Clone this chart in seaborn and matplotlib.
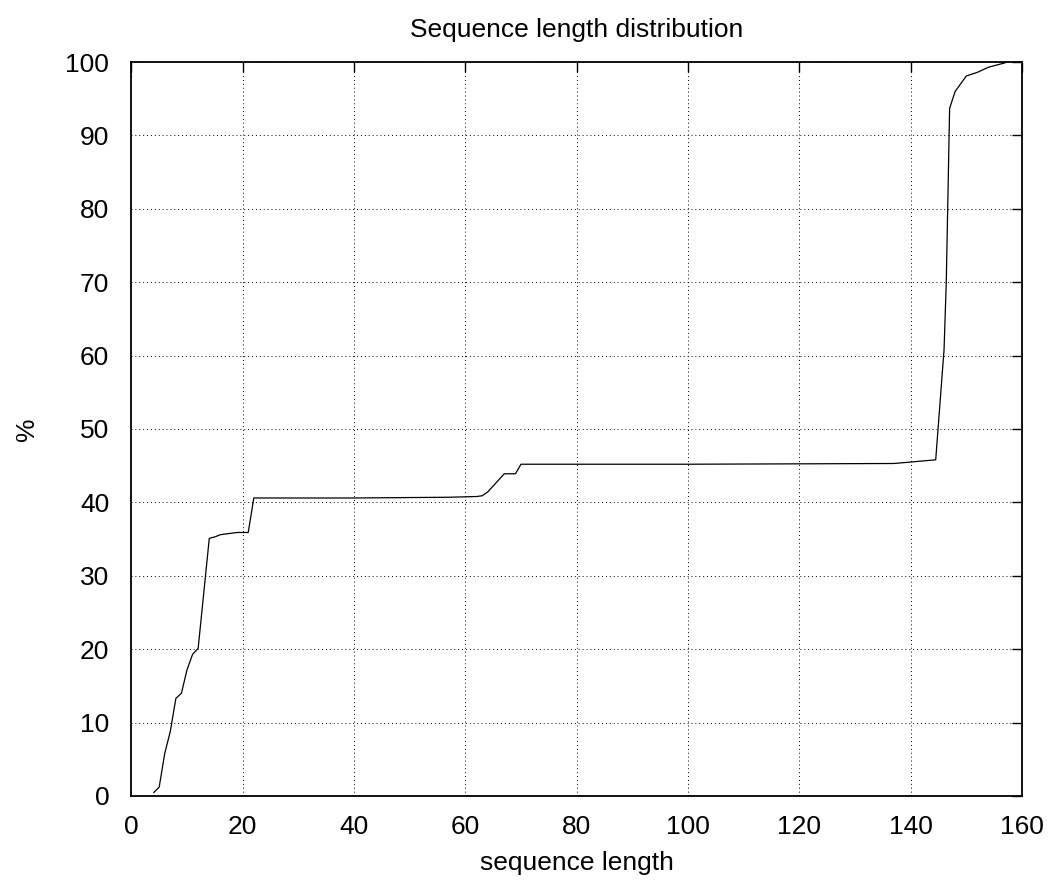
import matplotlib
matplotlib.use("Agg")
import matplotlib.pyplot as plt
import seaborn as sns
import pandas as pd

seq_length = [4, 5, 6, 7, 8, 9, 10, 11, 12, 14, 15, 16, 19, 21, 22, 40, 57, 62, 63,
              64, 67, 69, 70, 100, 137, 144.5, 146, 146.4, 147, 148, 150, 152, 154, 155, 157]
percent = [0.45, 1.2, 5.8, 8.8, 13.3, 14.0, 17.2, 19.3, 20.1, 35.1, 35.3, 35.6, 35.9, 35.9, 40.6,
           40.6, 40.7, 40.8, 40.9, 41.4, 43.9, 43.9, 45.2, 45.2, 45.3, 45.8, 60.8, 70.0, 93.7, 96.0,
           98.1, 98.6, 99.3, 99.5, 99.9]

df = pd.DataFrame({"sequence length": seq_length, "%": percent})

sns.set_style("white")
plt.rcParams["font.family"] = ["Liberation Sans", "DejaVu Sans"]
plt.rcParams["text.color"] = "black"
plt.rcParams["axes.labelcolor"] = "black"

fig = plt.figure(figsize=(10.55, 8.8), dpi=100)
ax = fig.add_axes([0.1245, 0.0955, 0.8442, 0.834])
sns.lineplot(data=df, x="sequence length", y="%", color="black", linewidth=0.9, ax=ax,
             estimator=None, sort=False)

ax.set_xlim(0, 160)
ax.set_ylim(0, 100)
ax.set_xticks(range(0, 161, 20))
ax.set_yticks(range(0, 101, 10))
ax.grid(True, color="black", linestyle=(0, (1, 3)), linewidth=0.7)
ax.tick_params(direction="in", length=7, width=1, top=True, right=True,
               labelsize=19, colors="black")
ax.tick_params(axis="y", pad=16)
ax.tick_params(axis="x", pad=14)
for s in ax.spines.values():
    s.set_color("black")
    s.set_linewidth(1.3)

ax.set_title("Sequence length distribution", fontsize=19, pad=18, color="black")
ax.set_xlabel("sequence length", fontsize=19, labelpad=8)
ax.set_ylabel("%", fontsize=19, labelpad=19)

fig.savefig("out.png", dpi=100)
